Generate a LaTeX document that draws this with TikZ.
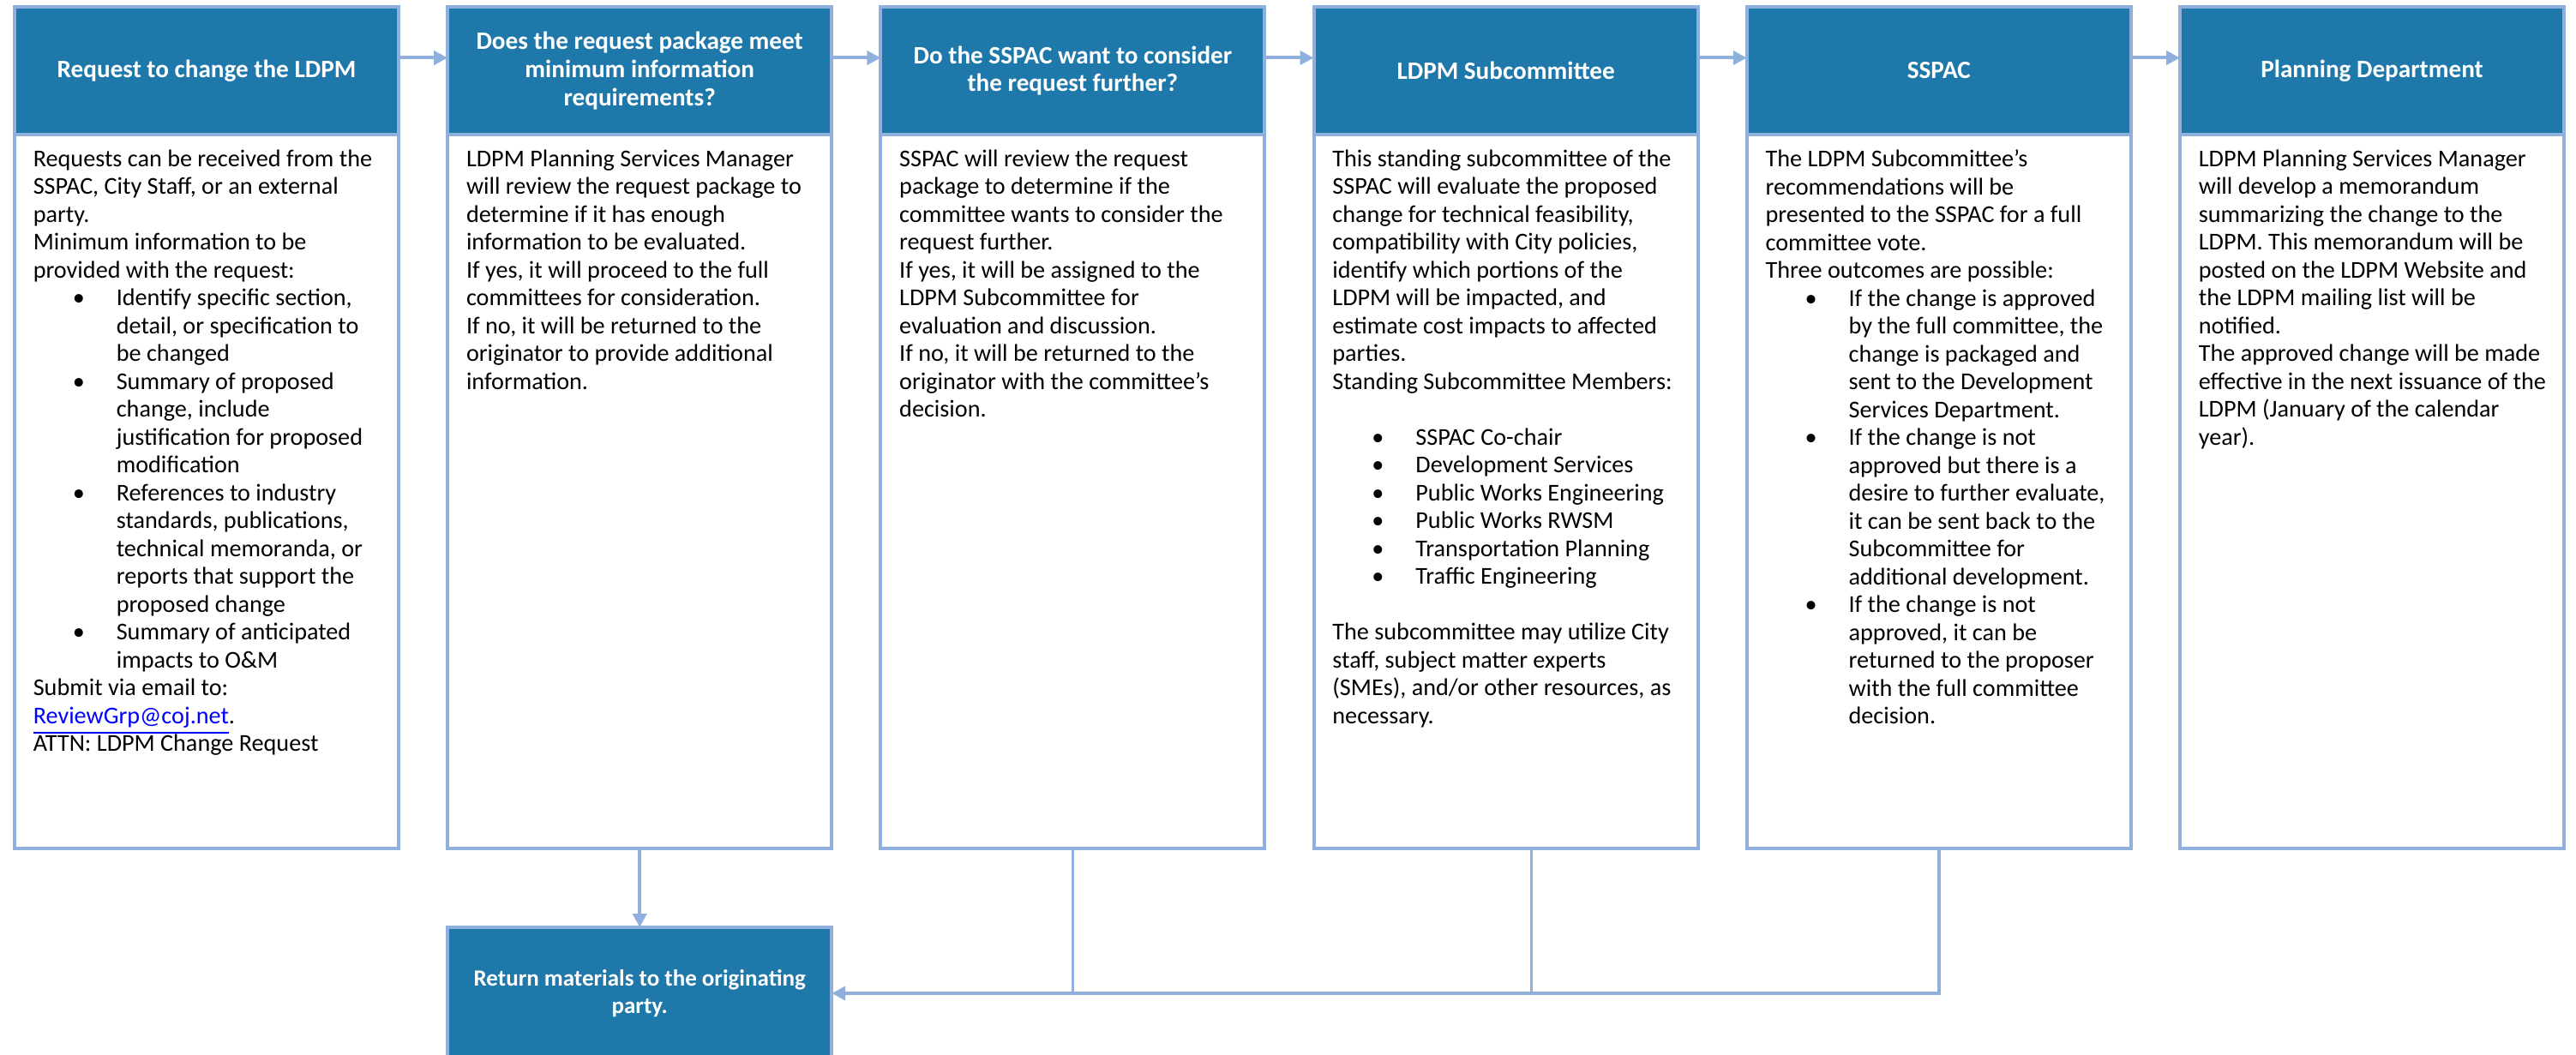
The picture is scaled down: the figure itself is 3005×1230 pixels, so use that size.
\documentclass[tikz,border=0pt]{standalone}
\usepackage{fontspec}
\setmainfont{Carlito}
\usetikzlibrary{positioning,arrows.meta}
\definecolor{hdr}{HTML}{1F78AA}
\definecolor{rim}{HTML}{8FB0DC}
\definecolor{mail}{HTML}{0000FF}
\newcommand{\bul}{\makebox[24.25pt][l]{\hspace{11.5pt}\textbullet}}
\newcommand{\ind}{\hspace*{24.25pt}}

\begin{document}
\begin{tikzpicture}[x=0.25pt,y=-0.25pt,
  head/.style={rectangle,draw=rim,line width=1pt,fill=hdr,text=white,font=\bfseries\fontsize{7.3}{8.2}\selectfont,align=center,minimum width=112pt,minimum height=37.25pt,inner sep=0pt,outer sep=0pt},
  panel/.style={rectangle,draw=rim,line width=1pt,minimum width=112pt,minimum height=208.25pt,inner sep=0pt,outer sep=0pt},
  txt/.style={anchor=north west,align=left,inner sep=0pt,font=\fontsize{7.05}{8.125}\selectfont},
  flow/.style={draw=rim,line width=1pt,-{Triangle[length=4pt,width=4pt]}},
  wire/.style={draw=rim,line width=0.9pt}]
\useasboundingbox (0,0) rectangle (3005,1230);
\node[head,anchor=north west](h1) at (17,8){Request to change the LDPM};
\node[head,right=14.3pt of h1](h2){Does the request package meet\\minimum information\\requirements?};
\node[head,right=14.3pt of h2](h3){Do the SSPAC want to consider\\the request further?};
\node[head,right=14.3pt of h3](h4){LDPM Subcommittee};
\node[head,right=14.3pt of h4](h5){SSPAC};
\node[head,right=14.3pt of h5](h6){Planning Department};
\node[panel,below=0pt of h1](b1){};
\node[panel,below=0pt of h2](b2){};
\node[panel,below=0pt of h3](b3){};
\node[panel,below=0pt of h4](b4){};
\node[panel,below=0pt of h5](b5){};
\node[panel,below=0pt of h6](b6){};
\node[head,below=23pt of b2,minimum height=38.5pt,font=\bfseries\fontsize{6.75}{8.15}\selectfont](ret){Return materials to the originating\\party.};

\node[txt](t1) at ([shift={(21,17)}]b1.north west){Requests can be received from the\\
SSPAC, City Staff, or an external\\
party.\\
Minimum information to be\\
provided with the request:\\
\bul Identify specific section,\\
\ind detail, or specification to\\
\ind be changed\\
\bul Summary of proposed\\
\ind change, include\\
\ind justification for proposed\\
\ind modification\\
\bul References to industry\\
\ind standards, publications,\\
\ind technical memoranda, or\\
\ind reports that support the\\
\ind proposed change\\
\bul Summary of anticipated\\
\ind impacts to O\&M\\
Submit via email to:\\
\textcolor{mail}{\underline{ReviewGrp@coj.net}}.\\
ATTN: LDPM Change Request};
\node[txt](t2) at ([shift={(21,17)}]b2.north west){LDPM Planning Services Manager\\
will review the request package to\\
determine if it has enough\\
information to be evaluated.\\
If yes, it will proceed to the full\\
committees for consideration.\\
If no, it will be returned to the\\
originator to provide additional\\
information.};
\node[txt](t3) at ([shift={(21,17)}]b3.north west){SSPAC will review the request\\
package to determine if the\\
committee wants to consider the\\
request further.\\
If yes, it will be assigned to the\\
LDPM Subcommittee for\\
evaluation and discussion.\\
If no, it will be returned to the\\
originator with the committee’s\\
decision.};
\node[txt](t4) at ([shift={(21,17)}]b4.north west){This standing subcommittee of the\\
SSPAC will evaluate the proposed\\
change for technical feasibility,\\
compatibility with City policies,\\
identify which portions of the\\
LDPM will be impacted, and\\
estimate cost impacts to affected\\
parties.\\
Standing Subcommittee Members:\\
~\\
\bul SSPAC Co-chair\\
\bul Development Services\\
\bul Public Works Engineering\\
\bul Public Works RWSM\\
\bul Transportation Planning\\
\bul Traffic Engineering\\
~\\
The subcommittee may utilize City\\
staff, subject matter experts\\
(SMEs), and/or other resources, as\\
necessary.};
\node[txt](t5) at ([shift={(21,17)}]b5.north west){The LDPM Subcommittee’s\\
recommendations will be\\
presented to the SSPAC for a full\\
committee vote.\\
Three outcomes are possible:\\
\bul If the change is approved\\
\ind by the full committee, the\\
\ind change is packaged and\\
\ind sent to the Development\\
\ind Services Department.\\
\bul If the change is not\\
\ind approved but there is a\\
\ind desire to further evaluate,\\
\ind it can be sent back to the\\
\ind Subcommittee for\\
\ind additional development.\\
\bul If the change is not\\
\ind approved, it can be\\
\ind returned to the proposer\\
\ind with the full committee\\
\ind decision.};
\node[txt](t6) at ([shift={(21,17)}]b6.north west){LDPM Planning Services Manager\\
will develop a memorandum\\
summarizing the change to the\\
LDPM. This memorandum will be\\
posted on the LDPM Website and\\
the LDPM mailing list will be\\
notified.\\
The approved change will be made\\
effective in the next issuance of the\\
LDPM (January of the calendar\\
year).};

\draw[flow]([yshift=3.75pt]h1.east)--([yshift=3.75pt]h2.west);
\draw[flow]([yshift=3.75pt]h2.east)--([yshift=3.75pt]h3.west);
\draw[flow]([yshift=3.75pt]h3.east)--([yshift=3.75pt]h4.west);
\draw[flow]([yshift=3.75pt]h4.east)--([yshift=3.75pt]h5.west);
\draw[flow]([yshift=3.75pt]h5.east)--([yshift=3.75pt]h6.west);
\draw[flow](b2.south)--(ret.north);
\coordinate(m4) at ([xshift=7.5pt]b4.south);
\draw[wire](b3.south)--(b3.south|-ret.east);
\draw[wire](m4)--(m4|-ret.east);
\draw[flow](b5.south)|-(ret.east);
\end{tikzpicture}
\end{document}
